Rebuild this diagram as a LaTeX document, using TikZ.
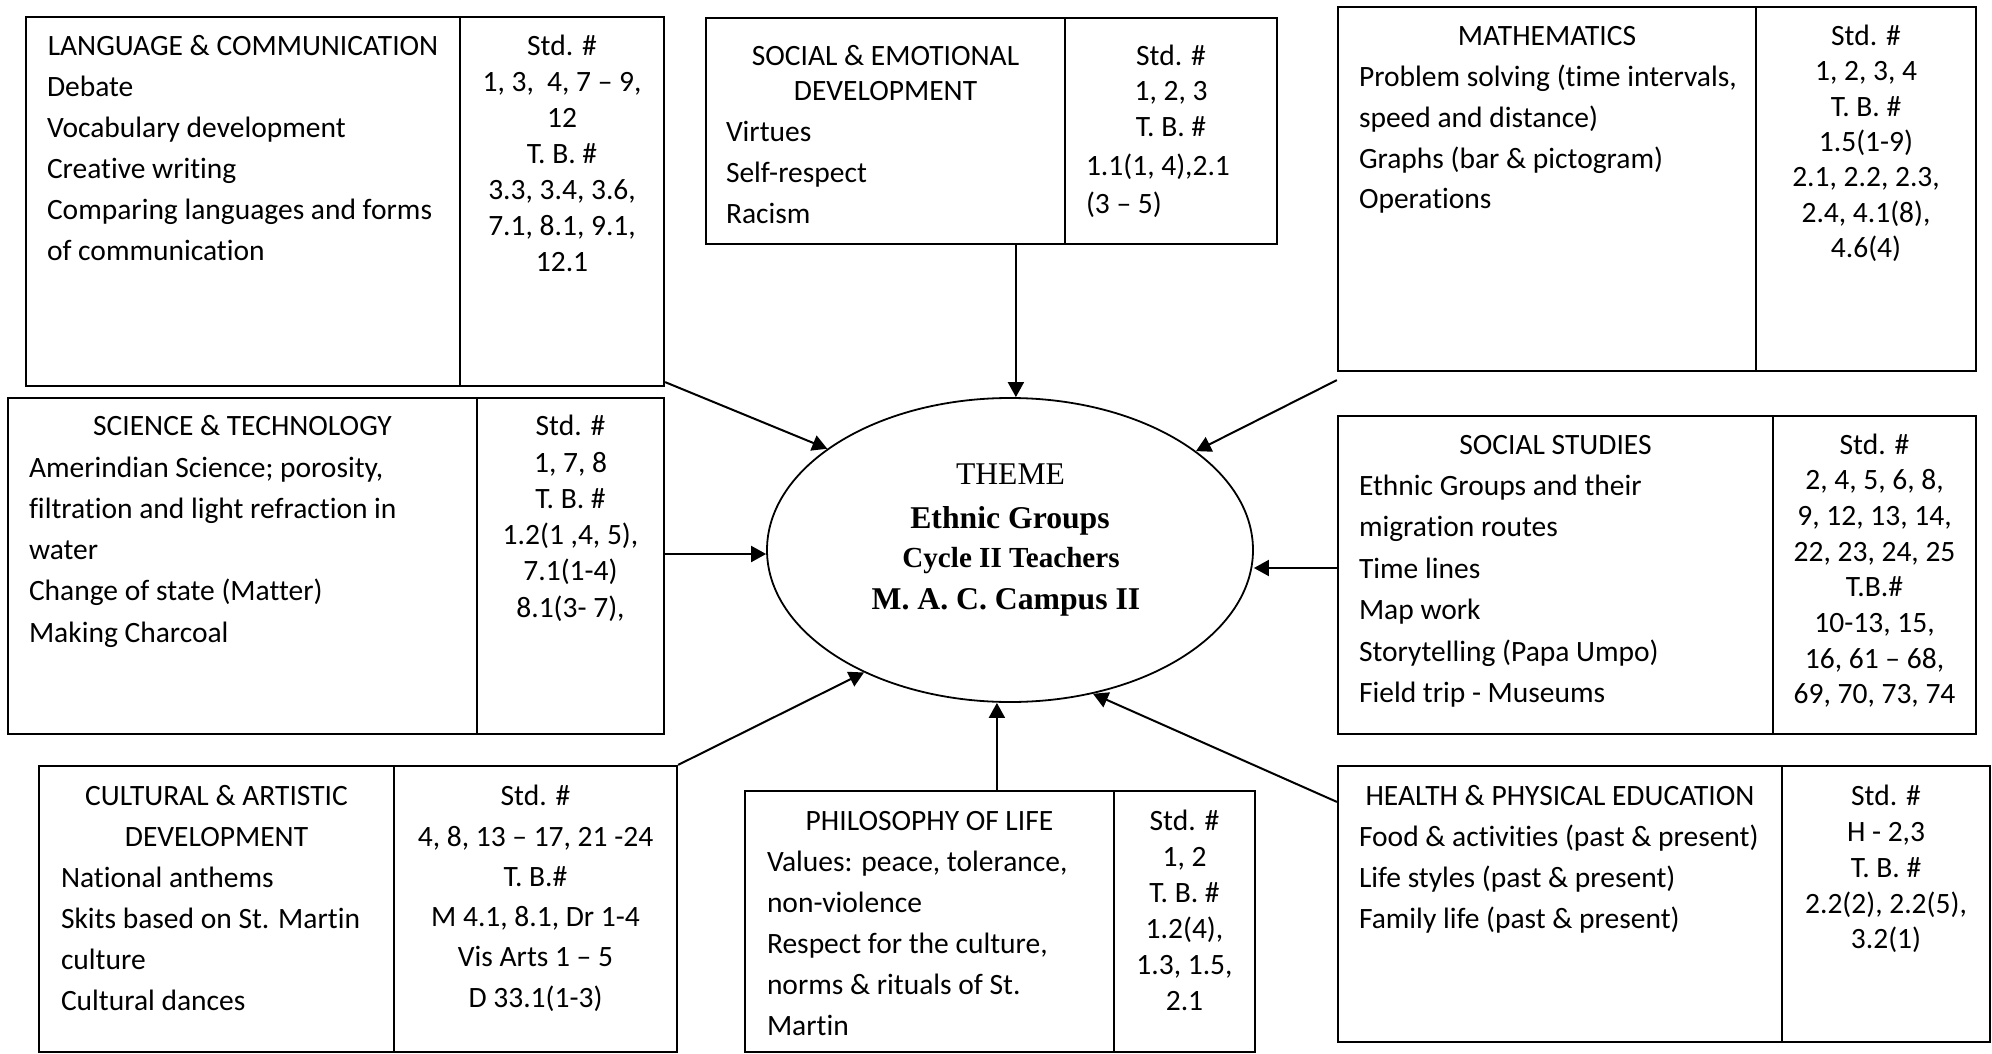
\documentclass[tikz,border=0pt]{standalone}
\usepackage{fontspec}
\setmainfont{Carlito}[Ligatures={NoCommon,NoContextual}]
\newfontfamily\tnr{Liberation Serif}
\usetikzlibrary{arrows.meta,shapes.geometric,fit}

% column text helpers: column width, line spacing, contents
\newcommand\colL[3]{\parbox[t]{\dimexpr#1pt+200pt\relax}{\def\ttlw{#1pt}\raggedright\fontsize{29.5}{#2}\selectfont #3}}
\newcommand\colR[3]{\parbox[t]{\dimexpr#1pt+100pt\relax}{\centering\fontsize{29.5}{#2}\selectfont #3}}
\newcommand\ttl[1]{\makebox[\ttlw][c]{#1}}

\tikzset{
  cell/.style={draw, line width=2.2pt, inner sep=0pt},
  txt/.style={inner sep=0pt, outer sep=0pt},
  arr/.style={line width=2pt, -{Triangle[length=15pt,width=16pt]}},
}

\begin{document}
\begin{tikzpicture}[x=1pt, y=-1pt]
\useasboundingbox (0,0) rectangle (1992,1054);

% ---------- central theme ----------
\node[draw, ellipse, line width=1.8pt, minimum width=486pt, minimum height=304pt, inner sep=0pt] (theme) at (1010,550) {};
\node[txt, anchor=base] (themeA) at (1010.5,484) {\tnr\fontsize{31.6}{36}\selectfont THEME};
\node[txt, anchor=base] (themeB) at (1010,528) {\tnr\bfseries\fontsize{31.7}{36}\selectfont Ethnic Groups};
\node[txt, anchor=base] (themeC) at (1011,567) {\tnr\bfseries\fontsize{29.1}{34}\selectfont Cycle II Teachers};
\node[txt, anchor=base] (themeD) at (1006,609) {\tnr\bfseries\fontsize{31.7}{36}\selectfont M. A. C. Campus II};

% ---------- language & communication ----------
\node[cell, fit={(26,17)(460,386)}] (langL) {};
\node[cell, fit={(460,17)(664,386)}] (langR) {};
\node[txt, anchor=base west] (langLt) at (47,55.7) {\colL{392}{41}{\ttl{LANGUAGE \& COMMUNICATION}\\
Debate\\ Vocabulary development\\ Creative writing\\ Comparing languages and forms\\ of communication}};
\node[txt, anchor=base] (langRt) at (562,55.7) {\colR{204}{36}{Std. \#\\ 1, 3,\ \ 4, 7 – 9,\\ 12\\ T. B. \#\\ 3.3, 3.4, 3.6,\\ 7.1, 8.1, 9.1,\\ 12.1}};

% ---------- social & emotional development ----------
\node[cell, fit={(706,18)(1065,244)}] (semoL) {};
\node[cell, fit={(1065,18)(1277,244)}] (semoR) {};
\node[txt, anchor=base west] (semoLt) at (726,65.5) {\colL{319}{41}{\ttl{SOCIAL \& EMOTIONAL}\\[-6pt] \ttl{DEVELOPMENT}\\
Virtues\\ Self-respect\\ Racism}};
\node[txt, anchor=base] (semoRt) at (1171,65.5) {\colR{212}{35.3}{Std. \#\\ 1, 2, 3\\ T. B. \#\\[4pt]
\makebox[\linewidth][l]{\hspace{71pt}1.1(1, 4),2.1}\\[3pt] \makebox[\linewidth][l]{\hspace{71pt}(3 – 5)}}};

% ---------- mathematics ----------
\node[cell, fit={(1338,7)(1756,371)}] (mathL) {};
\node[cell, fit={(1756,7)(1976,371)}] (mathR) {};
\node[txt, anchor=base west] (mathLt) at (1359,45.7) {\colL{376}{40.8}{\ttl{MATHEMATICS}\\
Problem solving (time intervals,\\ speed and distance)\\ Graphs (bar \& pictogram)\\ Operations}};
\node[txt, anchor=base] (mathRt) at (1866,45.7) {\colR{220}{35.3}{Std. \#\\ 1, 2, 3, 4\\ T. B. \#\\ 1.5(1-9)\\ 2.1, 2.2, 2.3,\\ 2.4, 4.1(8),\\ 4.6(4)}};

% ---------- science & technology ----------
\node[cell, fit={(8,398)(477,734)}] (sciL) {};
\node[cell, fit={(477,398)(664,734)}] (sciR) {};
\node[txt, anchor=base west] (sciLt) at (29,435.7) {\colL{427}{41.3}{\ttl{SCIENCE \& TECHNOLOGY}\\
Amerindian Science; porosity,\\ filtration and light refraction in\\ water\\ Change of state (Matter)\\ Making Charcoal}};
\node[txt, anchor=base] (sciRt) at (570.5,435.7) {\colR{187}{36.3}{Std. \#\\ 1, 7, 8\\ T. B. \#\\ 1.2(1 ,4, 5),\\ 7.1(1-4)\\ 8.1(3- 7),}};

% ---------- social studies ----------
\node[cell, fit={(1338,416)(1773,734)}] (socL) {};
\node[cell, fit={(1773,416)(1976,734)}] (socR) {};
\node[txt, anchor=base west] (socLt) at (1359,454) {\colL{393}{41.4}{\ttl{SOCIAL STUDIES}\\
Ethnic Groups and their\\ migration routes\\ Time lines\\ Map work\\ Storytelling (Papa Umpo)\\ Field trip - Museums}};
\node[txt, anchor=base] (socRt) at (1874.5,454) {\colR{203}{35.7}{Std. \#\\ 2, 4, 5, 6, 8,\\ 9, 12, 13, 14,\\ 22, 23, 24, 25\\ T.B.\#\\ 10-13, 15,\\ 16, 61 – 68,\\ 69, 70, 73, 74}};

% ---------- cultural & artistic development ----------
\node[cell, fit={(39,766)(394,1052)}] (cultL) {};
\node[cell, fit={(394,766)(677,1052)}] (cultR) {};
\node[txt, anchor=base west] (cultLt) at (61,805.7) {\colL{311}{41}{\ttl{CULTURAL \& ARTISTIC}\\ \ttl{DEVELOPMENT}\\
National anthems\\ Skits based on St. Martin\\ culture\\ Cultural dances}};
\node[txt, anchor=base] (cultRt) at (535.5,805.7) {\colR{283}{40.3}{Std. \#\\ 4, 8, 13 – 17, 21 -24\\ T. B.\#\\ M 4.1, 8.1, Dr 1-4\\ Vis Arts 1 – 5\\ D 33.1(1-3)}};

% ---------- philosophy of life ----------
\node[cell, fit={(745,791)(1114,1052)}] (philL) {};
\node[cell, fit={(1114,791)(1255,1052)}] (philR) {};
\node[txt, anchor=base west] (philLt) at (767,830.7) {\colL{325}{41}{\ttl{PHILOSOPHY OF LIFE}\\
Values: peace, tolerance,\\ non-violence\\ Respect for the culture,\\ norms \& rituals of St.\\ Martin}};
\node[txt, anchor=base] (philRt) at (1184.5,830.7) {\colR{141}{36}{Std. \#\\ 1, 2\\ T. B. \#\\ 1.2(4),\\ 1.3, 1.5,\\ 2.1}};

% ---------- health & physical education ----------
\node[cell, fit={(1338,766)(1782,1042)}] (hpeL) {};
\node[cell, fit={(1782,766)(1990,1042)}] (hpeR) {};
\node[txt, anchor=base west] (hpeLt) at (1359,805.7) {\colL{402}{41}{\ttl{HEALTH \& PHYSICAL EDUCATION}\\
Food \& activities (past \& present)\\ Life styles (past \& present)\\ Family life (past \& present)}};
\node[txt, anchor=base] (hpeRt) at (1886,805.7) {\colR{208}{35.8}{Std. \#\\ H - 2,3\\ T. B. \#\\ 2.2(2), 2.2(5),\\ 3.2(1)}};

% ---------- connector start points ----------
\coordinate (pLang) at ([yshift=5pt]langR.south east);
\coordinate (pSemo) at ([xshift=311pt]semoL.south west);
\coordinate (pMath) at ([yshift=-8pt]mathL.south west);
\coordinate (pSci)  at ([yshift=12pt]sciR.east);
\coordinate (pSoc)  at ([yshift=7pt]socL.west);
\coordinate (pCult) at (cultR.north east);
\coordinate (pPhil) at ([xshift=253pt]philL.north west);
\coordinate (pHpe)  at ([yshift=-37pt]hpeL.north west);

% ---------- connectors into the theme ----------
\draw[arr] (pLang) -- (theme.151.7);
\draw[arr] (pSemo) -- (pSemo |- theme.north);
\draw[arr] (pMath) -- (theme.28.95);
\draw[arr] (pSci) -- (theme.west |- pSci);
\draw[arr] (pSoc) -- (theme.east |- pSoc);
\draw[arr] (pCult) -- (theme.220.5);
\draw[arr] (pPhil) -- (pPhil |- theme.south);
\draw[arr] (pHpe) -- (theme.300.6);
\end{tikzpicture}
\end{document}
